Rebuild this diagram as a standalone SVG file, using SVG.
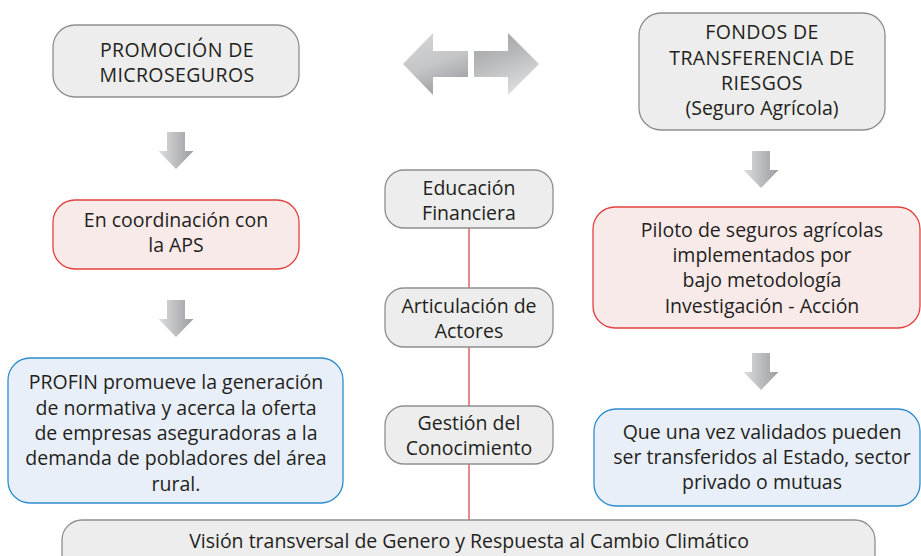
<svg xmlns="http://www.w3.org/2000/svg" width="921" height="556" viewBox="0 0 921 556">
  <defs>
    <linearGradient id="gDown" x1="0" y1="0" x2="1" y2="0">
      <stop offset="0" stop-color="#dcdddf"/>
      <stop offset="1" stop-color="#9c9da0"/>
    </linearGradient>
    <linearGradient id="gLeft" x1="0" y1="0" x2="0.4" y2="1">
      <stop offset="0" stop-color="#d6d7d9"/>
      <stop offset="0.6" stop-color="#c4c5c7"/>
      <stop offset="1" stop-color="#a2a3a6"/>
    </linearGradient>
    <linearGradient id="gRight" x1="0" y1="0" x2="0.4" y2="1">
      <stop offset="0" stop-color="#9fa0a3"/>
      <stop offset="0.5" stop-color="#b8b9bb"/>
      <stop offset="1" stop-color="#dadbdd"/>
    </linearGradient>
    <path id="downArrow" d="M-9,0 H9 V19 H17.5 L0,37 L-17.5,19 H-9 Z"/>
  </defs>
  <style>
    .gray{fill:#ededed;stroke:#8e8e8e;stroke-width:1.3}
    .red{fill:#f9eaea;stroke:#e2413f;stroke-width:1.3}
    .blue{fill:#e9eff8;stroke:#2f8dcd;stroke-width:1.3}
    text{font-family:"Open Sans","Liberation Sans",sans-serif;font-size:19.5px;fill:#231f20;text-anchor:middle}
    .caps{letter-spacing:0.4px}
    .conn{stroke:#e6686c;stroke-width:1.6;fill:none}
  </style>

  <g id="connectors">
    <line class="conn" x1="469" y1="228" x2="469" y2="520"/>
    <use href="#downArrow" x="176" y="132" fill="url(#gDown)"/>
    <use href="#downArrow" x="176" y="300" fill="url(#gDown)"/>
    <use href="#downArrow" x="761" y="151" fill="url(#gDown)"/>
    <use href="#downArrow" x="761" y="353" fill="url(#gDown)"/>
    <path d="M403,64 L433,33 V51 H468 V77 H433 V95 Z" fill="url(#gLeft)"/>
    <path d="M539,64 L508,33 V51 H474 V77 H508 V95 Z" fill="url(#gRight)"/>
  </g>

  <g id="promocion">
    <rect class="gray" x="53" y="25" width="246" height="72" rx="22"/>
    <text class="caps" x="177" y="57">PROMOCIÓN DE</text>
    <text class="caps" x="177" y="82">MICROSEGUROS</text>
  </g>

  <g id="coordinacion">
    <rect class="red" x="53" y="200" width="246" height="69" rx="22"/>
    <text x="176" y="227">En coordinación con</text>
    <text x="176" y="252">la APS</text>
  </g>

  <g id="profin">
    <rect class="blue" x="8" y="358" width="335" height="145" rx="22"/>
    <text x="176" y="389">PROFIN promueve la generación</text>
    <text x="176" y="415">de normativa y acerca la oferta</text>
    <text x="176" y="440">de empresas aseguradoras a la</text>
    <text x="176" y="465">demanda de pobladores del área</text>
    <text x="176" y="491">rural.</text>
  </g>

  <g id="fondos">
    <rect class="gray" x="639" y="13" width="246" height="117" rx="22"/>
    <text class="caps" x="762" y="39">FONDOS DE</text>
    <text class="caps" x="762" y="65">TRANSFERENCIA DE</text>
    <text class="caps" x="762" y="90">RIESGOS</text>
    <text x="762" y="115">(Seguro Agrícola)</text>
  </g>

  <g id="piloto">
    <rect class="red" x="593" y="207" width="327" height="121" rx="22"/>
    <text x="762" y="237">Piloto de seguros agrícolas</text>
    <text x="762" y="262">implementados por</text>
    <text x="762" y="287"> bajo metodología</text>
    <text x="762" y="313">Investigación - Acción</text>
  </g>

  <g id="validados">
    <rect class="blue" x="594" y="409" width="326" height="97" rx="22"/>
    <text x="762" y="439">Que una vez validados pueden</text>
    <text x="762" y="464">ser transferidos al Estado, sector</text>
    <text x="762" y="489">privado o mutuas</text>
  </g>

  <g id="educacion">
    <rect class="gray" x="385" y="170" width="168" height="58" rx="19"/>
    <text x="469" y="195">Educación</text>
    <text x="469" y="220">Financiera</text>
  </g>

  <g id="articulacion">
    <rect class="gray" x="385" y="288" width="168" height="59" rx="19"/>
    <text x="469" y="313">Articulación de</text>
    <text x="469" y="338">Actores</text>
  </g>

  <g id="gestion">
    <rect class="gray" x="385" y="406" width="168" height="58" rx="19"/>
    <text x="469" y="430">Gestión del</text>
    <text x="469" y="455">Conocimiento</text>
  </g>

  <g id="vision">
    <rect class="gray" x="62" y="520" width="813" height="60" rx="20"/>
    <text x="469" y="548">Visión transversal de Genero y Respuesta al Cambio Climático</text>
  </g>
</svg>
